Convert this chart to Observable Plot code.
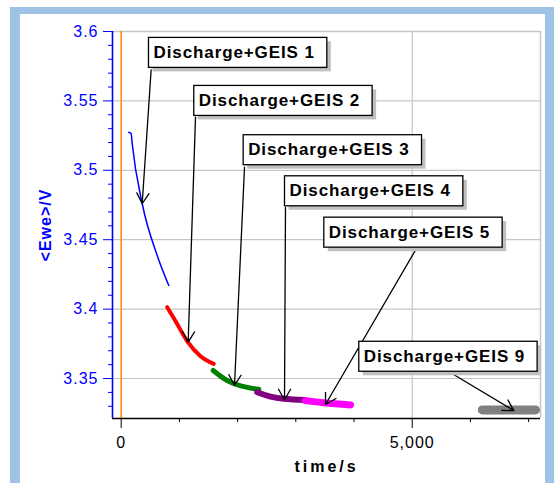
<!DOCTYPE html>
<html>
<head>
<meta charset="utf-8">
<script src="https://cdn.jsdelivr.net/npm/d3@7"></script>
<script src="https://cdn.jsdelivr.net/npm/@observablehq/plot@0.6"></script>
<style>
  html, body { margin: 0; padding: 0; background: #ffffff; }
  #wrap { position: relative; width: 556px; height: 483px; overflow: hidden; }
  #outer { position: absolute; left: 10px; top: 7px; width: 544px; height: 490px; background: #9fc3e6; }
  #inner { position: absolute; left: 20px; top: 14px; width: 525px; height: 490px; background: #ffffff; }
  #chart { position: absolute; left: 0; top: 0; }
</style>
</head>
<body>
<div id="wrap"><div id="outer"></div><div id="inner"></div><div id="chart"></div></div>
<script>
// ---- data (time in s, <Ewe> in V) ----
const seg1T = [131, 172, 189, 361, 619, 818];
const seg1V = [3.5274, 3.5263, 3.5193, 3.4761, 3.4386, 3.4170];
const seg2T = [790, 933, 1134, 1363, 1591];
const seg2V = [3.4014, 3.3914, 3.3769, 3.3661, 3.3606];
const seg3T = [1581, 1821, 1993, 2364];
const seg3V = [3.3558, 3.3486, 3.3455, 3.3422];
const seg4T = [2337, 2565, 2794, 3167];
const seg4V = [3.3401, 3.3370, 3.3354, 3.3346];
const seg5T = [3167, 3481, 3940];
const seg5V = [3.3341, 3.3325, 3.3310];
const seg9T = [6203, 7118];
const seg9V = [3.3274, 3.3274];
const markerT = [0];

// annotations
const annLabels = ["Discharge+GEIS 1", "Discharge+GEIS 2", "Discharge+GEIS 3", "Discharge+GEIS 4", "Discharge+GEIS 5", "Discharge+GEIS 9"];
const annTextT = [555, 1333, 2182, 2892, 3567, 4168];
const annTextV = [3.5849, 3.5503, 3.5148, 3.4852, 3.4554, 3.3660];
const annTailT = [515, 1277, 2119, 2823, 5069, 5646];
const annTailV = [3.5724, 3.5383, 3.5022, 3.4732, 3.4434, 3.3545];
const annTipT = [361, 1151, 1947, 2806, 3510, 6746];
const annTipV = [3.4759, 3.3762, 3.3450, 3.3347, 3.3313, 3.3269];

// axes
const xDomain = [-149, 7204];
const yDomain = [3.3212, 3.6];
const xMajorTicks = [0, 5000];
const xMinorTicks = [1000, 2000, 3000, 4000, 6000, 7000];
const yMajorTicks = [3.35, 3.4, 3.45, 3.5, 3.55, 3.6];
const yMinorTicks = [3.33, 3.34, 3.36, 3.37, 3.38, 3.39, 3.41, 3.42, 3.43, 3.44, 3.46, 3.47, 3.48, 3.49, 3.51, 3.52, 3.53, 3.54, 3.56, 3.57, 3.58, 3.59];
const xLabel = "time/s";
const yLabel = "<Ewe>/V";

const seg = (T, V) => T.map((t, i) => ({t, v: V[i]}));
const ann = annLabels.map((label, i) => ({
  label, tt: annTextT[i], tv: annTextV[i],
  x1: annTailT[i], y1: annTailV[i], x2: annTipT[i], y2: annTipV[i]
}));

const lineOpts = (stroke, w) => ({x: "t", y: "v", stroke, strokeWidth: w, strokeLinecap: "round", strokeLinejoin: "round", curve: "monotone-x"});

const plot = Plot.plot({
  width: 556,
  height: 483,
  marginLeft: 112,
  marginRight: 16,
  marginTop: 31,
  marginBottom: 65,
  style: {fontFamily: "'Liberation Sans', Arial, sans-serif", background: "transparent", letterSpacing: "1px", overflow: "visible"},
  x: {domain: xDomain},
  y: {domain: yDomain},
  marks: [
    Plot.gridY(yMajorTicks, {stroke: "#c6c6c6", strokeOpacity: 1, strokeWidth: 1.2}),
    Plot.gridX([5000], {stroke: "#c6c6c6", strokeOpacity: 1, strokeWidth: 1.2}),
    Plot.ruleX([xDomain[1]], {stroke: "#c6c6c6", strokeWidth: 1.5}),
    Plot.ruleY([yDomain[1]], {stroke: "#c6c6c6", strokeWidth: 1.5}),
    Plot.ruleX(markerT, {stroke: "#ff8c1a", strokeWidth: 1.6}),
    Plot.line(seg(seg1T, seg1V), lineOpts("#0000ff", 1.5)),
    Plot.line(seg(seg2T, seg2V), lineOpts("#ff0000", 4)),
    Plot.line(seg(seg3T, seg3V), lineOpts("#008000", 5)),
    Plot.line(seg(seg4T, seg4V), lineOpts("#800080", 6)),
    Plot.line(seg(seg5T, seg5V), lineOpts("#ff00ff", 7)),
    Plot.line(seg(seg9T, seg9V), lineOpts("#808080", 9)),
    Plot.ruleX([xDomain[0]], {stroke: "#0000ff", strokeWidth: 1.6}),
    Plot.ruleY([yDomain[0]], {stroke: "#000000", strokeWidth: 1.6}),
    Plot.axisY(yMajorTicks, {color: "#0000ff", tickSize: 9, tickPadding: 5, fontSize: 16, label: null, tickFormat: d => String(d)}),
    Plot.axisY(yMinorTicks, {color: "#0000ff", tickSize: 4, tickFormat: null, label: null, text: null}),
    Plot.axisX(xMajorTicks, {color: "#000000", tickSize: 10, tickPadding: 8, fontSize: 16, label: null, tickFormat: d3.format(",")}),
    Plot.axisX(xMinorTicks, {color: "#000000", tickSize: 4, label: null, text: null}),
    Plot.text([yLabel], {frameAnchor: "left", textAnchor: "middle", lineAnchor: "middle", dx: -67, rotate: -90, fill: "#0000ff", fontWeight: "bold", fontSize: 16}),
    Plot.text([xLabel], {frameAnchor: "bottom", textAnchor: "middle", lineAnchor: "middle", dy: 48, fill: "#000000", fontWeight: "bold", fontSize: 16}),
    Plot.arrow(ann, {x1: "x1", y1: "y1", x2: "x2", y2: "y2", stroke: "#000000", strokeWidth: 1.3, headLength: 14, headAngle: 60, insetStart: 0, insetEnd: 0}),
    Plot.text(ann, {x: "tt", y: "tv", text: "label", textAnchor: "start", fontSize: 17, fontWeight: "bold", fill: "#000000"})
  ]
});

document.getElementById("chart").appendChild(plot);

// letter-spaced x label
d3.select(plot).selectAll("text").filter(function () { return this.textContent === xLabel; })
  .style("letter-spacing", "3px");

// boxes with shadows behind annotation texts
d3.select(plot).selectAll("text").filter(function () { return annLabels.includes(this.textContent); })
  .style("letter-spacing", "0.9px")
  .each(function () {
    const b = this.getBBox();
    const cy = b.y + b.height / 2;
    const x0 = b.x - 5, w = b.width + 17, y0 = cy - 15, h = 30;
    const parent = this.parentNode;
    const ns = "http://www.w3.org/2000/svg";
    const sh = document.createElementNS(ns, "rect");
    sh.setAttribute("x", x0 + 4); sh.setAttribute("y", y0 + 4);
    sh.setAttribute("width", w); sh.setAttribute("height", h);
    sh.setAttribute("fill", "#c0c0c0");
    const bx = document.createElementNS(ns, "rect");
    bx.setAttribute("x", x0); bx.setAttribute("y", y0);
    bx.setAttribute("width", w); bx.setAttribute("height", h);
    bx.setAttribute("fill", "#ffffff"); bx.setAttribute("stroke", "#000000"); bx.setAttribute("stroke-width", 1.3);
    const tr = this.getAttribute("transform");
    if (tr) { sh.setAttribute("transform", tr); bx.setAttribute("transform", tr); }
    parent.insertBefore(sh, this);
    parent.insertBefore(bx, this);
  });
</script>
</body>
</html>
